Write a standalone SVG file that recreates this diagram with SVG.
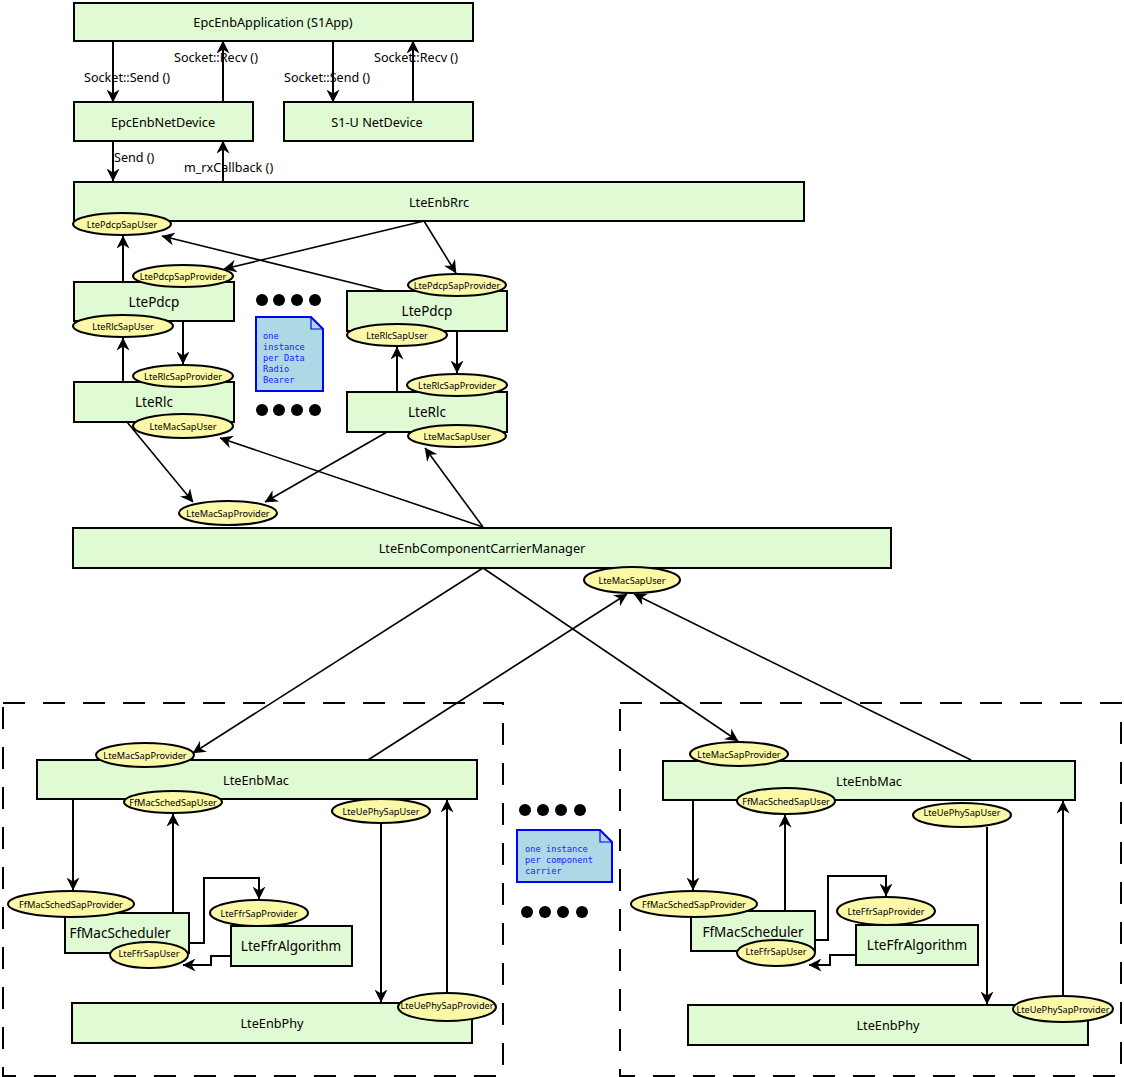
<svg xmlns="http://www.w3.org/2000/svg" width="1124" height="1077" viewBox="0 0 1124 1077">
<style>
.b{fill:#e0fad3;stroke:#000;stroke-width:2}
.e{fill:#fbf8a8;stroke:#000;stroke-width:2}
.t{font-family:"Noto Sans","DejaVu Sans",sans-serif;font-size:12.7px;fill:#000;text-anchor:middle;dominant-baseline:central}
.tb{font-family:"Noto Sans","DejaVu Sans",sans-serif;font-size:13.5px;fill:#000;text-anchor:middle;dominant-baseline:central}
.s{font-family:"Noto Sans","DejaVu Sans",sans-serif;font-size:9.2px;fill:#000;text-anchor:middle;dominant-baseline:central}
.l{font-family:"Noto Sans","DejaVu Sans",sans-serif;font-size:12.6px;fill:#000;dominant-baseline:central}
.c{fill:none;stroke:#000;stroke-width:1.6;marker-end:url(#a)}
.c2{fill:none;stroke:#000;stroke-width:2;marker-end:url(#a)}
.d{fill:none;stroke:#000;stroke-width:2;stroke-dasharray:22 18}
.n{fill:#add8e6;stroke:#0000ff;stroke-width:2}
.nt{font-family:"DejaVu Sans Mono","Liberation Mono",monospace;font-size:8.7px;fill:#2222ff}
.dot{fill:#000}
</style>
<defs>
<marker id="a" viewBox="0 0 13 13" refX="12.5" refY="6.5" markerWidth="13" markerHeight="13" orient="auto" markerUnits="userSpaceOnUse">
<path d="M0,0 L13,6.5 L0,13 L4,6.5 z" fill="#000"/>
</marker>
</defs>
<rect width="1124" height="1077" fill="#fff"/>

<g id="dashed">
<rect class="d" x="3" y="703" width="500" height="373"/>
<rect class="d" x="620" y="703" width="501" height="373"/>
</g>

<g id="app"><rect class="b" x="74" y="3" width="399" height="38"/><text class="t" x="273" y="22">EpcEnbApplication (S1App)</text></g>
<g id="netdev"><rect class="b" x="74" y="102" width="179" height="39"/><text class="t" x="163" y="122">EpcEnbNetDevice</text></g>
<g id="s1u"><rect class="b" x="284" y="102" width="189" height="39"/><text class="t" x="377" y="122">S1-U NetDevice</text></g>

<g id="rrc"><rect class="b" x="74" y="182" width="730" height="39"/><text class="t" x="439" y="202">LteEnbRrc</text>
<ellipse class="e" cx="122" cy="224" rx="49" ry="11"/><text class="s" x="122" y="224">LtePdcpSapUser</text></g>

<g id="pdcp1"><rect class="b" x="74" y="282" width="160" height="39"/><text class="tb" x="154" y="302">LtePdcp</text>
<ellipse class="e" cx="183" cy="276" rx="50" ry="11"/><text class="s" x="183" y="276">LtePdcpSapProvider</text>
<ellipse class="e" cx="123" cy="326" rx="50" ry="11"/><text class="s" x="123" y="326">LteRlcSapUser</text></g>

<g id="rlc1"><rect class="b" x="74" y="382" width="160" height="40"/><text class="tb" x="154" y="402">LteRlc</text>
<ellipse class="e" cx="183" cy="376" rx="50" ry="11"/><text class="s" x="183" y="376">LteRlcSapProvider</text>
<ellipse class="e" cx="183" cy="426" rx="50" ry="12"/><text class="s" x="183" y="426">LteMacSapUser</text></g>

<g id="pdcp2"><rect class="b" x="347" y="291" width="160" height="40"/><text class="tb" x="427" y="311">LtePdcp</text>
<ellipse class="e" cx="457" cy="285" rx="49" ry="11"/><text class="s" x="457" y="285">LtePdcpSapProvider</text>
<ellipse class="e" cx="397" cy="335" rx="50" ry="11"/><text class="s" x="397" y="335">LteRlcSapUser</text></g>

<g id="rlc2"><rect class="b" x="347" y="392" width="160" height="40"/><text class="tb" x="427" y="412">LteRlc</text>
<ellipse class="e" cx="457" cy="385" rx="50" ry="11"/><text class="s" x="457" y="385">LteRlcSapProvider</text>
<ellipse class="e" cx="457" cy="436" rx="49" ry="11"/><text class="s" x="457" y="436">LteMacSapUser</text></g>

<g id="note1">
<circle class="dot" cx="262" cy="300" r="6"/><circle class="dot" cx="279" cy="300" r="6"/><circle class="dot" cx="297" cy="300" r="6"/><circle class="dot" cx="315" cy="300" r="6"/>
<path class="n" d="M256,317 H311 L323,329 V391 H256 Z"/><path d="M311,317 V329 H323" fill="none" stroke="#0000ff" stroke-width="1.2"/>
<text class="nt" x="263" y="339">one</text><text class="nt" x="263" y="350">instance</text><text class="nt" x="263" y="361">per Data</text><text class="nt" x="263" y="372">Radio</text><text class="nt" x="263" y="383">Bearer</text>
<circle class="dot" cx="262" cy="410" r="6"/><circle class="dot" cx="279" cy="410" r="6"/><circle class="dot" cx="297" cy="410" r="6"/><circle class="dot" cx="315" cy="410" r="6"/>
</g>

<g id="ccm"><rect class="b" x="73" y="528" width="818" height="40"/><text class="t" x="482" y="548">LteEnbComponentCarrierManager</text>
<ellipse class="e" cx="228" cy="513" rx="49" ry="12"/><text class="s" x="228" y="513">LteMacSapProvider</text>
<ellipse class="e" cx="632" cy="580" rx="48" ry="13"/><text class="s" x="632" y="580">LteMacSapUser</text></g>

<g id="mac1"><rect class="b" x="37" y="760" width="440" height="39"/><text class="t" x="256" y="780">LteEnbMac</text>
<ellipse class="e" cx="145" cy="755" rx="49" ry="12"/><text class="s" x="145" y="755">LteMacSapProvider</text>
<ellipse class="e" cx="173" cy="802" rx="49" ry="11"/><text class="s" x="173" y="802">FfMacSchedSapUser</text>
<ellipse class="e" cx="381" cy="811" rx="49" ry="12"/><text class="s" x="381" y="811">LteUePhySapUser</text></g>

<g id="sched1"><rect class="b" x="65" y="913" width="124" height="40"/><text class="tb" x="120" y="933">FfMacScheduler</text>
<ellipse class="e" cx="71" cy="904" rx="63" ry="13"/><text class="s" x="71" y="904">FfMacSchedSapProvider</text>
<ellipse class="e" cx="149" cy="955" rx="39" ry="13"/><text class="s" x="149" y="953">LteFfrSapUser</text></g>

<g id="ffr1"><rect class="b" x="231" y="926" width="121" height="40"/><text class="tb" x="291" y="946">LteFfrAlgorithm</text>
<ellipse class="e" cx="259" cy="913" rx="49" ry="13"/><text class="s" x="259" y="913">LteFfrSapProvider</text></g>

<g id="phy1"><rect class="b" x="72" y="1003" width="400" height="40"/><text class="t" x="272" y="1023">LteEnbPhy</text>
<ellipse class="e" cx="447" cy="1007" rx="49" ry="14"/><text class="s" x="447" y="1005">LteUePhySapProvider</text></g>

<g id="note2">
<circle class="dot" cx="525" cy="810" r="6"/><circle class="dot" cx="543" cy="810" r="6"/><circle class="dot" cx="561" cy="810" r="6"/><circle class="dot" cx="580" cy="810" r="6"/>
<path class="n" d="M517,830 H600 L612,842 V882 H517 Z"/><path d="M600,830 V842 H612" fill="none" stroke="#0000ff" stroke-width="1.2"/>
<text class="nt" x="525" y="852">one instance</text><text class="nt" x="525" y="863">per component</text><text class="nt" x="525" y="874">carrier</text>
<circle class="dot" cx="527" cy="912" r="6"/><circle class="dot" cx="545" cy="912" r="6"/><circle class="dot" cx="563" cy="912" r="6"/><circle class="dot" cx="582" cy="912" r="6"/>
</g>

<g id="mac2"><rect class="b" x="663" y="761" width="412" height="39"/><text class="t" x="869" y="781">LteEnbMac</text>
<ellipse class="e" cx="739" cy="754" rx="49" ry="12"/><text class="s" x="739" y="754">LteMacSapProvider</text>
<ellipse class="e" cx="786" cy="801" rx="49" ry="13"/><text class="s" x="786" y="801">FfMacSchedSapUser</text>
<ellipse class="e" cx="962" cy="815" rx="49" ry="12"/><text class="s" x="962" y="812">LteUePhySapUser</text></g>

<g id="sched2"><rect class="b" x="691" y="911" width="124" height="40"/><text class="tb" x="753" y="932">FfMacScheduler</text>
<ellipse class="e" cx="694" cy="904" rx="63" ry="13"/><text class="s" x="694" y="904">FfMacSchedSapProvider</text>
<ellipse class="e" cx="776" cy="953" rx="39" ry="13"/><text class="s" x="776" y="951">LteFfrSapUser</text></g>

<g id="ffr2"><rect class="b" x="856" y="925" width="122" height="40"/><text class="tb" x="917" y="945">LteFfrAlgorithm</text>
<ellipse class="e" cx="886" cy="911" rx="49" ry="14"/><text class="s" x="886" y="911">LteFfrSapProvider</text></g>

<g id="phy2"><rect class="b" x="688" y="1005" width="400" height="40"/><text class="t" x="888" y="1025">LteEnbPhy</text>
<ellipse class="e" cx="1063" cy="1009" rx="50" ry="13"/><text class="s" x="1063" y="1009">LteUePhySapProvider</text></g>

<g id="connectors">
<path class="c2" d="M113,41 V102"/>
<path class="c2" d="M223,102 V41"/>
<path class="c2" d="M333,41 V102"/>
<path class="c2" d="M413,102 V41"/>
<path class="c2" d="M113,141 V181"/>
<path class="c2" d="M223,181 V141"/>
<path class="c2" d="M123,281 V236"/>
<path class="c" d="M424,221 L224,269"/>
<path class="c" d="M424,221 L456,273"/>
<path class="c" d="M385,291 L162,236"/>
<path class="c2" d="M183,322 V364"/>
<path class="c2" d="M123,382 V338"/>
<path class="c2" d="M457,331 V373"/>
<path class="c2" d="M397,391 V347"/>
<path class="c" d="M127,422 L193,502"/>
<path class="c" d="M387,432 L265,502"/>
<path class="c" d="M483,527 L220,438"/>
<path class="c" d="M483,527 L425,448"/>
<path class="c" d="M483,568 L193,753"/>
<path class="c" d="M368,760 L627,594"/>
<path class="c" d="M483,568 L738,741"/>
<path class="c" d="M971,760 L634,594"/>
<path class="c2" d="M73,800 V890"/>
<path class="c2" d="M173,913 V814"/>
<path class="c2" d="M381,823 V1002"/>
<path class="c2" d="M447,993 V800"/>
<path class="c2" d="M189,943 H204 V878 H259 V899"/>
<path class="c2" d="M231,956 H211 V965 H183"/>
<path class="c2" d="M693,801 V890"/>
<path class="c2" d="M785,911 V815"/>
<path class="c2" d="M987,827 V1004"/>
<path class="c2" d="M1063,996 V801"/>
<path class="c2" d="M815,940 H828 V876 H886 V896"/>
<path class="c2" d="M856,955 H830 V965 H809"/>
</g>
<g id="labels">
<text class="l" x="84" y="77">Socket::Send ()</text>
<text class="l" x="174" y="57">Socket::Recv ()</text>
<text class="l" x="284" y="77">Socket::Send ()</text>
<text class="l" x="374" y="57">Socket::Recv ()</text>
<text class="l" x="114" y="157">Send ()</text>
<text class="l" x="184" y="167">m_rxCallback ()</text>
</g>
</svg>
